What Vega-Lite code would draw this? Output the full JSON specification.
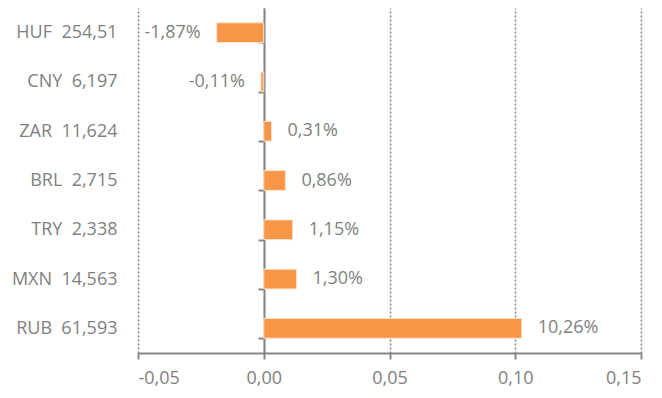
{
  "$schema": "https://vega.github.io/schema/vega-lite/v6.json",
  "autosize": "none",
  "width": 503,
  "height": 345,
  "padding": {"left": 138, "top": 8, "right": 21, "bottom": 45},
  "background": "white",
  "config": {
    "locale": {"number": {"decimal": ",", "thousands": ".", "grouping": [3], "currency": ["", " €"], "minus": "-"}},
    "view": {"stroke": null},
    "font": "Open Sans",
    "axis": {"labelFont": "Open Sans", "labelColor": "#7f7f7f", "titleFont": "Open Sans"}
  },
  "data": {
    "values": [
      {"label": "HUF\u00a0\u00a0254,51", "value": -0.0187},
      {"label": "CNY\u00a0\u00a06,197", "value": -0.0011},
      {"label": "ZAR\u00a0\u00a011,624", "value": 0.0031},
      {"label": "BRL\u00a0\u00a02,715", "value": 0.0086},
      {"label": "TRY\u00a0\u00a02,338", "value": 0.0115},
      {"label": "MXN\u00a0\u00a014,563", "value": 0.0130},
      {"label": "RUB\u00a0\u00a061,593", "value": 0.1026}
    ]
  },
  "encoding": {
    "y": {
      "field": "label", "type": "nominal", "sort": null, "title": null,
      "scale": {"paddingInner": 0.6, "paddingOuter": 0.3},
      "axis": {
        "offset": -126, "domainColor": "#868686", "domainWidth": 2,
        "tickColor": "#868686", "tickWidth": 2, "tickSize": 6, "tickBand": "extent",
        "labelPadding": 141, "labelFontSize": 18, "grid": false
      }
    },
    "x": {
      "field": "value", "type": "quantitative", "title": null,
      "scale": {"domain": [-0.05, 0.15], "nice": false, "zero": false},
      "axis": {
        "values": [-0.05, 0, 0.05, 0.1, 0.15], "format": ".2f",
        "domainColor": "#868686", "domainWidth": 2,
        "tickColor": "#868686", "tickWidth": 2, "tickSize": 6,
        "labelPadding": 10, "labelFontSize": 18,
        "grid": true, "gridColor": "#808080", "gridDash": [2, 2], "gridWidth": 1.5
      }
    }
  },
  "layer": [
    {"mark": {"type": "bar", "color": "#F79646", "stroke": "#fde3cc", "strokeWidth": 1}},
    {
      "mark": {
        "type": "text", "fontSize": 18, "color": "#7f7f7f",
        "align": {"expr": "datum.value < 0 ? 'right' : 'left'"},
        "dx": {"expr": "datum.value < 0 ? -16 : 16"}
      },
      "encoding": {"text": {"field": "value", "type": "quantitative", "format": ".2%"}}
    }
  ]
}
